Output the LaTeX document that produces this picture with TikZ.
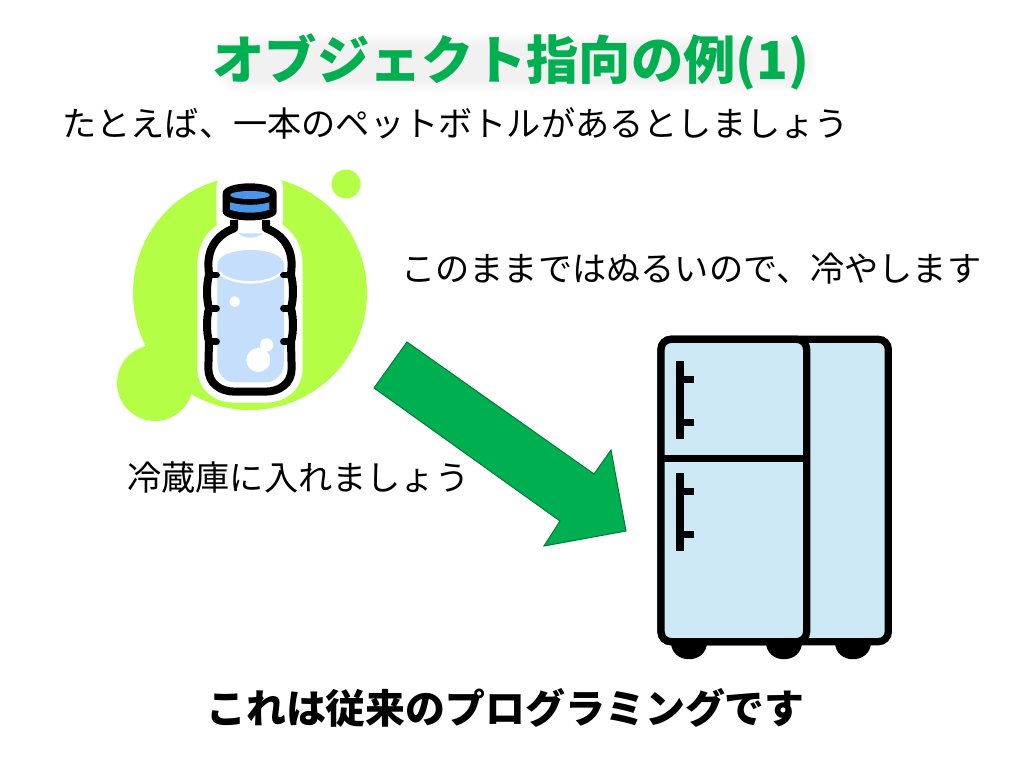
\documentclass[tikz,border=0pt]{standalone}
\usepackage{fontspec}
\setmainfont{Noto Sans CJK JP}
\usepackage{tikz}
\usepackage{xcolor}
\definecolor{ColA}{RGB}{0,176,80}
\definecolor{ColB}{RGB}{180,255,70}
\definecolor{ColC}{RGB}{197,222,252}
\definecolor{ColD}{RGB}{74,150,232}
\definecolor{ColE}{RGB}{206,233,246}
\tikzstyle{TitleText}=[inner sep=0pt,font=\fontsize{52.3}{58}\selectfont\bfseries]
\tikzstyle{BodyText}=[inner sep=0pt,anchor=west,font=\fontsize{34.2}{40}\selectfont]
\tikzstyle{FootText}=[inner sep=0pt,font=\fontsize{39.9}{46}\selectfont\bfseries]
\tikzstyle{BlobGraph}=[fill=ColB,draw=none]
\tikzstyle{InkGraph}=[draw=black,line width=8pt,line join=round]
\tikzstyle{BarGraph}=[draw=black,line width=7.3pt]
\tikzstyle{ArrowGraph}=[fill=ColA,draw=ColA!70!black,line width=1pt,line join=miter]
\begin{document}
\begin{tikzpicture}[x=1pt,y=-1pt]
        \useasboundingbox(0,0)rectangle(1024,768);
        \foreach \d in {0,1,...,13}{
            \fill[black,opacity=.005,rounded corners=18pt](228-\d,46-\d)rectangle(804+\d,80+\d);
        }
        \node[TitleText,text=ColA](title)at(511,62){オブジェクト指向の例(1)};
        \node[BodyText](intro)at(62,123){たとえば、一本のペットボトルがあるとしましょう};
        \node[BodyText](warm)at(401,269){このままではぬるいので、冷やします};
        \node[BodyText](put)at(127,478){冷蔵庫に入れましょう};
        \node[FootText](foot)at(505.5,708){これは従来のプログラミングです};
        \fill[BlobGraph](250,293)circle(117);
        \fill[BlobGraph](346,184)circle(14.5);
        \fill[BlobGraph](155,383)circle(38);
        \begin{scope}[shift={(110,165)},scale=1/3]
            \draw[white,fill=white,line width=22pt,line join=round]
                (352,65)--(486,65)--(486,165)--(468,165)--(468,190)
                ..controls(510,205)and(545,240)..(545,300)--(545,610)
                ..controls(545,655)and(510,680)..(465,680)--(375,680)
                ..controls(330,680)and(295,655)..(295,610)--(295,300)
                ..controls(295,240)and(330,205)..(372,190)--(372,165)--(352,165)--cycle;
            \fill[ColC](322,300)..controls(322,240)and(522,240)..(522,300)--(522,590)
                ..controls(522,630)and(495,652)..(465,652)--(375,652)
                ..controls(345,652)and(322,630)..(322,590)--cycle;
            \fill[ColC](385,205)..controls(405,222)and(440,222)..(460,205)--cycle;
            \draw[white,line width=2.5pt](328,322)..controls(360,362)and(480,362)..(516,322);
            \fill[white](374,410)circle(16);
            \fill[white](445,585)circle(36);
            \fill[white](470,540)circle(20);
            \draw[InkGraph](372,165)--(372,190)..controls(330,205)and(295,240)..(295,300)--(297,330)
                ..controls(289,360)and(289,400)..(297,430)
                ..controls(289,460)and(289,500)..(297,530)--(295,610)
                ..controls(295,655)and(330,680)..(375,680)--(465,680)
                ..controls(510,680)and(545,655)..(545,610)--(543,530)
                ..controls(551,500)and(551,460)..(543,430)
                ..controls(551,400)and(551,360)..(543,330)--(545,300)
                ..controls(545,240)and(510,205)..(468,190)--(468,165);
            \foreach \y in {330,430,530}{
                \draw[black,line width=6.5pt,line cap=round](300,\y)--(320,\y);
                \draw[black,line width=6.5pt,line cap=round](520,\y)--(540,\y);
            }
            \fill[black](338,85)..controls(338,45)and(500,45)..(500,85)--(500,140)
                ..controls(500,175)and(338,175)..(338,140)--cycle;
            \fill[ColD](360,112)..controls(395,122)and(445,122)..(478,112)--(478,134)
                ..controls(445,146)and(395,146)..(360,134)--cycle;
            \fill[ColD](420,90)ellipse(60 and 12);
        \end{scope}
        \draw[ArrowGraph](407,342)--(374,388)--(560,521)--(544,546)--(626,531)--(611,450)--(594,474)--cycle;
        \begin{scope}[shift={(640,325)},scale=1/3]
            \foreach \x in {147,433,640}{
                \fill[black](\x-54,950)..controls(\x-54,1020)and(\x+54,1020)..(\x+54,950)--cycle;
            }
            \draw[BarGraph,fill=ColE,rounded corners=10pt](63,43)rectangle(745,950);
            \draw[BarGraph,fill=ColE,rounded corners=10pt](63,43)rectangle(500,950);
            \draw[BarGraph](63,400)--(500,400);
            \foreach \y in {108,443}{
                \draw[BarGraph](120,\y)--(120,\y+234);
                \draw[BarGraph](120,\y+56)--(162,\y+56);
                \draw[BarGraph](120,\y+185)--(162,\y+185);
            }
        \end{scope}
    \end{tikzpicture}
\end{document}
